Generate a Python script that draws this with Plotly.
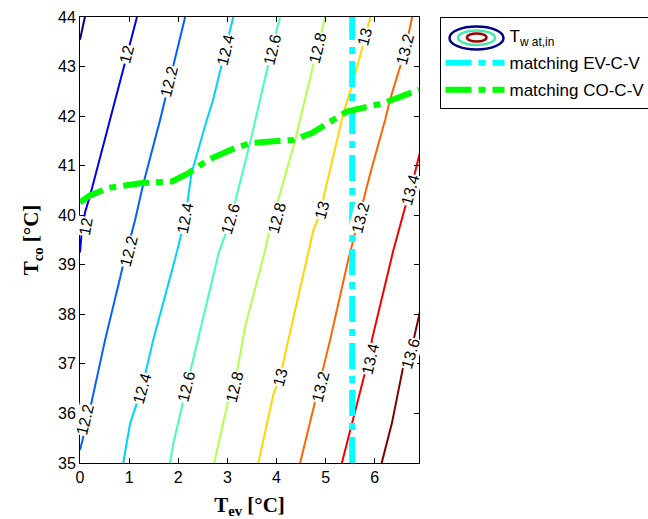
import math
import numpy as np
import plotly.graph_objects as go

# ---------------- data ----------------
# Contour levels of T_wat,in (degC) and the traced contour lines (T_ev, T_co)
levels = [11.8, 12.0, 12.2, 12.4, 12.6, 12.8, 13.0, 13.2, 13.4, 13.6]

c118_x = [0.10, 0.00]
c118_y = [44.00, 43.54]
c120_x = [1.16, 0.96, 0.61, 0.41, 0.20, 0.10, 0.03, 0.00]
c120_y = [44.00, 43.24, 41.92, 41.12, 40.38, 40.05, 39.60, 39.25]
c122_x = [2.14, 1.63, 1.29, 1.12, 0.88, 0.51, 0.20, 0.00]
c122_y = [44.00, 41.92, 40.64, 39.90, 39.00, 37.48, 36.07, 35.26]
c124_x = [3.12, 2.71, 2.58, 2.27, 2.14, 1.93, 1.49, 1.26, 1.02, 0.88]
c124_y = [44.00, 42.33, 41.92, 40.85, 39.93, 39.10, 37.48, 36.51, 35.80, 35.00]
c126_x = [4.07, 3.90, 3.46, 3.07, 2.82, 2.44, 2.17, 1.90, 1.83]
c126_y = [44.00, 43.33, 41.46, 39.93, 39.23, 37.62, 36.54, 35.40, 35.00]
c128_x = [4.99, 4.83, 4.38, 4.04, 3.84, 3.77, 3.36, 3.14, 3.02, 2.73]
c128_y = [44.00, 43.37, 41.52, 40.31, 39.63, 39.30, 37.75, 36.53, 36.27, 35.00]
c130_x = [5.91, 5.80, 5.57, 5.36, 4.96, 4.92, 4.75, 4.24, 4.07, 3.94, 3.63]
c130_y = [44.00, 43.60, 42.73, 42.06, 40.37, 40.10, 39.70, 37.48, 36.73, 36.40, 35.00]
c132_x = [6.76, 6.62, 6.31, 6.21, 5.91, 5.68, 5.46, 5.09, 4.86, 4.76, 4.48]
c132_y = [44.00, 43.34, 42.33, 41.92, 40.85, 39.94, 39.10, 37.48, 36.54, 36.14, 35.00]
c134_x = [6.92, 6.73, 6.62, 6.38, 5.94, 5.90, 5.80, 5.33]
c134_y = [41.27, 40.51, 40.17, 39.30, 37.48, 37.10, 36.82, 35.00]
c136_x = [6.92, 6.73, 6.58, 6.35, 6.14]
c136_y = [38.06, 37.22, 36.95, 35.81, 35.00]

contour_x = [c118_x, c120_x, c122_x, c124_x, c126_x, c128_x, c130_x, c132_x, c134_x, c136_x]
contour_y = [c118_y, c120_y, c122_y, c124_y, c126_y, c128_y, c130_y, c132_y, c134_y, c136_y]

# Contour labels (level, position)
lab_level = [12.0, 12.0, 12.2, 12.2, 12.2, 12.4, 12.4, 12.4, 12.6, 12.6, 12.6,
             12.8, 12.8, 12.8, 13.0, 13.0, 13.0, 13.2, 13.2, 13.2, 13.4, 13.4, 13.6]
lab_x = [0.95, 0.12, 1.82, 1.00, 0.11, 2.97, 2.14, 1.26, 3.92, 3.07, 2.17,
         4.83, 4.01, 3.14, 5.80, 4.92, 4.07, 6.62, 5.70, 4.90, 6.73, 5.92, 6.73]
lab_y = [43.24, 39.77, 42.69, 39.26, 35.87, 43.34, 39.93, 36.51, 43.34, 39.93, 36.54,
         43.37, 39.93, 36.53, 43.60, 40.10, 36.73, 43.34, 39.94, 36.54, 40.51, 37.10, 37.21]

# Matching lines
ev_x = 5.54
ev_y = [35.0, 44.0]
co_x = [0.00, 0.20, 0.58, 1.26, 1.87, 2.21, 2.61, 3.16, 3.50, 4.34, 4.72, 5.06, 5.43, 6.17, 6.90]
co_y = [40.26, 40.40, 40.55, 40.65, 40.68, 40.85, 41.12, 41.36, 41.46, 41.52, 41.66, 41.86, 42.09, 42.26, 42.53]

x_ticks = [0, 1, 2, 3, 4, 5, 6]
y_ticks = [35, 36, 37, 38, 39, 40, 41, 42, 43, 44]

# ---------------- styling ----------------
jet_colors = ["#000080", "#0000ED", "#0060FF", "#00D1FF", "#44FFBB",
              "#B7FF48", "#FFD600", "#FF6400", "#F20000", "#800000"]

W, H = 648, 519
ML, MR, MT, MB = 80, 229, 17, 56
XR = [0, 6.9]
YR = [35, 44]
PW, PH = W - ML - MR, H - MT - MB
PX_X = PW / (XR[1] - XR[0])
PX_Y = PH / (YR[1] - YR[0])

SANS = "Liberation Sans, Arial, sans-serif"
SERIF = "Liberation Serif, Times New Roman, serif"

fig = go.Figure()

for lev, xs, ys, col in zip(levels, contour_x, contour_y, jet_colors):
    fig.add_trace(go.Scatter(x=xs, y=ys, mode="lines", line=dict(color=col, width=2),
                             showlegend=False, hoverinfo="skip"))

# legend placeholder for contour entry
fig.add_trace(go.Scatter(x=[None], y=[None], mode="lines",
                         line=dict(color="rgba(0,0,0,0)", width=2),
                         name="T<sub>w at,in</sub>", legendgroup="a"))

fig.add_trace(go.Scatter(x=[ev_x, ev_x], y=ev_y, mode="lines",
                         line=dict(color="#00FFFF", width=6, dash="26px,7px,7px,7px"),
                         name="matching EV-C-V", legendgroup="b"))
fig.add_trace(go.Scatter(x=co_x, y=co_y, mode="lines",
                         line=dict(color="#00FF00", width=6, dash="26px,7px,7px,7px"),
                         name="matching CO-C-V", legendgroup="c"))


def x_at(xs, ys, y):
    order = np.argsort(ys)
    return float(np.interp(y, np.array(ys)[order], np.array(xs)[order]))


def fmt(v):
    return ("%g" % v)


for lev, lx, ly in zip(lab_level, lab_x, lab_y):
    i = levels.index(lev)
    xs, ys = contour_x[i], contour_y[i]
    ya, yb = max(min(ys), ly - 0.6), min(max(ys), ly + 0.6)
    dx = (x_at(xs, ys, yb) - x_at(xs, ys, ya)) * PX_X
    dy = (yb - ya) * PX_Y
    ang = math.degrees(math.atan2(dy, dx))
    fig.add_annotation(x=lx, y=ly, xref="x", yref="y", text=fmt(lev), showarrow=False,
                       textangle=-ang, font=dict(family=SANS, size=16, color="black"),
                       bgcolor="white", borderpad=0)

# contour-style legend icon (ellipses)
def px2paper_x(px):
    return (px - ML) / PW


def px2paper_y(py):
    return (H - MB - py) / PH


for (x0, x1, y0, y1, col) in [(449.5, 503.5, 26.5, 49.5, "#000080"),
                              (458.0, 495.0, 30.5, 45.0, "#44E8B0"),
                              (467.0, 486.5, 33.5, 41.5, "#990000")]:
    fig.add_shape(type="circle", xref="paper", yref="paper",
                  x0=px2paper_x(x0), x1=px2paper_x(x1),
                  y0=px2paper_y(y1), y1=px2paper_y(y0),
                  line=dict(color=col, width=2.5), layer="above")

fig.update_layout(
    width=W, height=H,
    margin=dict(l=ML, r=MR, t=MT, b=MB, pad=0, autoexpand=False),
    paper_bgcolor="white", plot_bgcolor="white",
    font=dict(family=SANS, size=16, color="black"),
    showlegend=True,
    legend=dict(x=(439.5 - ML) / PW, y=1.0, xanchor="left", yanchor="top",
                bordercolor="black", borderwidth=1, bgcolor="rgba(255,255,255,0)",
                font=dict(family=SANS, size=17, color="black"),
                itemwidth=59, tracegroupgap=2, traceorder="grouped"),
    xaxis=dict(range=XR, tickvals=x_ticks, ticks="inside", ticklen=5, tickcolor="black",
               showline=True, linecolor="black", linewidth=1, mirror="ticks",
               showgrid=False, zeroline=False, automargin=False,
               tickfont=dict(family=SANS, size=16),
               title=dict(text="T<sub>ev</sub> [°C]",
                          font=dict(family=SERIF, size=21, weight="bold"), standoff=13)),
    yaxis=dict(range=YR, tickvals=y_ticks, ticks="inside", ticklen=5, tickcolor="black",
               showline=True, linecolor="black", linewidth=1, mirror="ticks",
               showgrid=False, zeroline=False, automargin=False,
               tickfont=dict(family=SANS, size=16),
               title=dict(text="T<sub>co</sub> [°C]",
                          font=dict(family=SERIF, size=21, weight="bold"), standoff=13)),
)

fig.write_html("out.html", config={"displayModeBar": False},
               post_script="document.body.style.margin='0';document.body.style.overflow='hidden';")
